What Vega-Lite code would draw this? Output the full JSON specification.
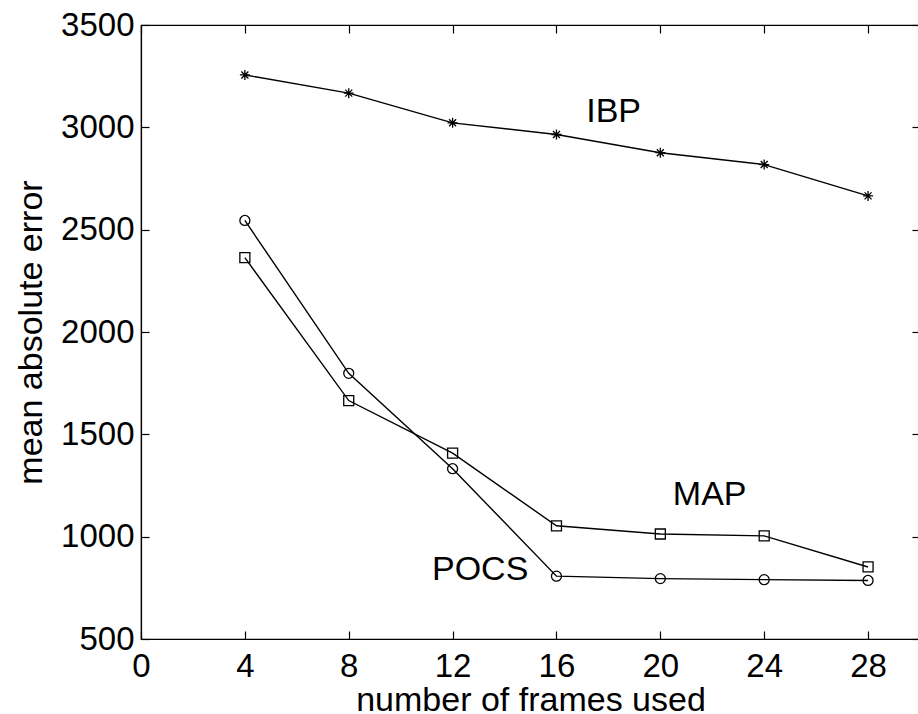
{
  "$schema": "https://vega.github.io/schema/vega-lite/v6.json",
  "width": 779,
  "height": 614,
  "autosize": "none",
  "padding": {"left": 141, "top": 25, "right": 0, "bottom": 75},
  "background": "white",
  "config": {
    "font": "Liberation Sans",
    "view": {"stroke": "#000", "strokeWidth": 1.2},
    "axis": {"grid": false, "domainColor": "#000", "tickColor": "#000", "labelColor": "#000", "titleColor": "#000", "labelFont": "Liberation Sans", "titleFont": "Liberation Sans", "titleFontWeight": "normal"}
  },
  "datasets": {
    "series": [
      {"frames": 4, "mae": 3256, "method": "IBP"},
      {"frames": 8, "mae": 3167, "method": "IBP"},
      {"frames": 12, "mae": 3022, "method": "IBP"},
      {"frames": 16, "mae": 2965, "method": "IBP"},
      {"frames": 20, "mae": 2876, "method": "IBP"},
      {"frames": 24, "mae": 2818, "method": "IBP"},
      {"frames": 28, "mae": 2665, "method": "IBP"},
      {"frames": 4, "mae": 2545, "method": "POCS"},
      {"frames": 8, "mae": 1798, "method": "POCS"},
      {"frames": 12, "mae": 1332, "method": "POCS"},
      {"frames": 16, "mae": 807, "method": "POCS"},
      {"frames": 20, "mae": 795, "method": "POCS"},
      {"frames": 24, "mae": 790, "method": "POCS"},
      {"frames": 28, "mae": 786, "method": "POCS"},
      {"frames": 4, "mae": 2363, "method": "MAP"},
      {"frames": 8, "mae": 1665, "method": "MAP"},
      {"frames": 12, "mae": 1408, "method": "MAP"},
      {"frames": 16, "mae": 1053, "method": "MAP"},
      {"frames": 20, "mae": 1013, "method": "MAP"},
      {"frames": 24, "mae": 1004, "method": "MAP"},
      {"frames": 28, "mae": 852, "method": "MAP"}
    ],
    "labels": [
      {"frames": 18.2, "mae": 3075, "text": "IBP"},
      {"frames": 21.9, "mae": 1204, "text": "MAP"},
      {"frames": 13.06, "mae": 838, "text": "POCS"}
    ]
  },
  "resolve": {"axis": {"x": "independent", "y": "independent"}},
  "layer": [
    {
      "data": {"name": "series"},
      "mark": {"type": "line", "color": "#000", "strokeWidth": 1.4},
      "encoding": {
        "x": {"field": "frames", "type": "quantitative",
          "scale": {"domain": [0, 30], "nice": false, "zero": false},
          "axis": {"orient": "bottom", "values": [0, 4, 8, 12, 16, 20, 24, 28], "title": "number of frames used", "format": "d",
            "labelFontSize": 33, "titleFontSize": 34, "tickSize": -8, "labelPadding": 19, "titlePadding": 0,
            "domainWidth": 1.2, "tickWidth": 1.2, "labelFlush": false, "labelOverlap": false}},
        "y": {"field": "mae", "type": "quantitative",
          "scale": {"domain": [500, 3500], "nice": false, "zero": false},
          "axis": {"orient": "left", "values": [500, 1000, 1500, 2000, 2500, 3000, 3500], "title": "mean absolute error", "format": "d",
            "labelFontSize": 33, "titleFontSize": 34, "tickSize": -8, "labelPadding": 15, "titlePadding": 12,
            "domainWidth": 1.2, "tickWidth": 1.2, "labelFlush": false, "labelOverlap": false}},
        "detail": {"field": "method"}
      }
    },
    {
      "data": {"name": "series"},
      "mark": {"type": "point", "filled": false, "color": "#000", "strokeWidth": 1.3, "size": 100, "opacity": 1},
      "encoding": {
        "x": {"field": "frames", "type": "quantitative", "axis": null},
        "y": {"field": "mae", "type": "quantitative", "axis": null},
        "shape": {"field": "method", "type": "nominal", "legend": null,
          "scale": {"domain": ["IBP", "POCS", "MAP"], "range": ["M-1,0L1,0M0,-1L0,1M-0.7,-0.7L0.7,0.7M-0.7,0.7L0.7,-0.7", "circle", "square"]}}
      }
    },
    {
      "data": {"name": "labels"},
      "mark": {"type": "text", "fontSize": 34, "color": "#000", "align": "center", "baseline": "middle", "font": "Liberation Sans"},
      "encoding": {
        "x": {"field": "frames", "type": "quantitative",
          "axis": {"orient": "top", "values": [0, 4, 8, 12, 16, 20, 24, 28], "labels": false, "title": null, "tickSize": -8, "tickWidth": 1.2, "domain": false}},
        "y": {"field": "mae", "type": "quantitative",
          "axis": {"orient": "right", "values": [500, 1000, 1500, 2000, 2500, 3000, 3500], "labels": false, "title": null, "tickSize": -8, "tickWidth": 1.2, "domain": false}},
        "text": {"field": "text"}
      }
    }
  ]
}
